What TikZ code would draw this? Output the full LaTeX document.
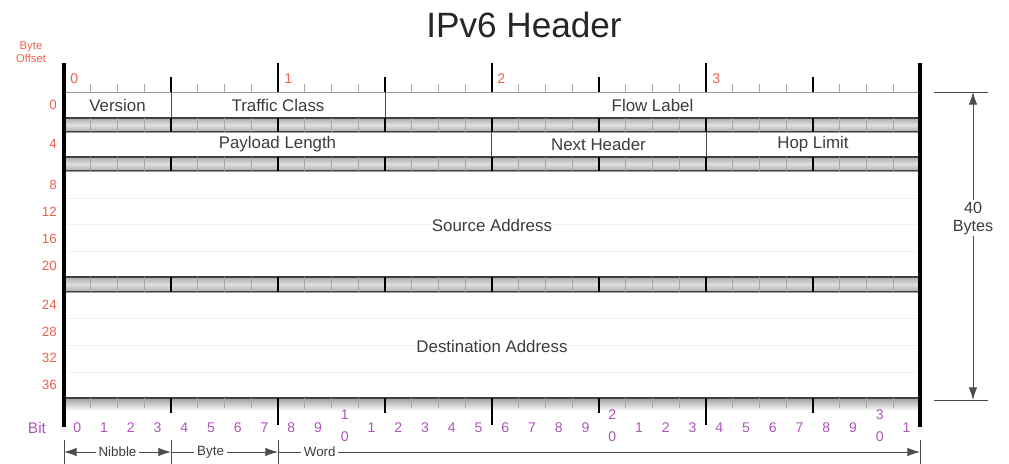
\documentclass[tikz,border=0pt]{standalone}
\usepackage{fontspec}
\setmainfont{Liberation Sans}
\usetikzlibrary{arrows.meta, positioning}
\definecolor{offsetred}{RGB}{236,96,78}
\definecolor{bitpurple}{RGB}{175,85,185}
\definecolor{labelgray}{RGB}{60,60,60}
\tikzset{
  title/.style = {font=\fontsize{25}{28}\selectfont, text=black!85},
  fieldtxt/.style = {font=\fontsize{12}{14}\selectfont, text=labelgray, inner sep=1pt},
  bigtxt/.style = {fieldtxt, fill=white},
  offset/.style = {font=\fontsize{9.5}{11}\selectfont, text=offsetred, anchor=east, inner sep=0pt},
  bytenum/.style = {font=\fontsize{10}{12}\selectfont, text=offsetred, anchor=west, inner sep=0pt},
  bitnum/.style = {font=\fontsize{10}{12}\selectfont, text=bitpurple, inner sep=0pt},
  spantxt/.style = {font=\fontsize{9.5}{11}\selectfont, text=labelgray, fill=white, inner sep=2pt},
  border/.style = {line width=2.5pt, black},
  bytetick/.style = {line width=2pt, black},
  nibtick/.style = {line width=1.4pt, black},
  bittick/.style = {line width=0.5pt, gray!70},
  greybar/.style = {top color=gray!65, bottom color=gray!65, middle color=gray!25, draw=black!75, line width=0.8pt},
  row/.style = {draw=gray!80, line width=0.6pt, fill=white},
  faint/.style = {gray!12, line width=0.6pt},
  sep/.style = {black!70, line width=0.7pt},
  span/.style = {black!70, line width=0.6pt},
  tip/.style = {-{Latex[length=9pt,width=6pt]}},
  tips/.style = {{Latex[length=9pt,width=6pt]}-{Latex[length=9pt,width=6pt]}},
}

\begin{document}
\begin{tikzpicture}[x=0.025cm, y=-0.025cm]
    \useasboundingbox (0,0) rectangle (1009,464);
    % --- Title ---
    \node[title] (title) at (524,25) {IPv6 Header};

    % --- Rows ---
    \draw[row] (64,92) rectangle (920,118);
    \draw[greybar] (64,118) rectangle (920,132);
    \draw[row] (64,132) rectangle (920,157);
    \draw[greybar] (64,157) rectangle (920,171);
    \draw[row] (64,171) rectangle (920,277);
    \draw[greybar] (64,277) rectangle (920,292);
    \draw[row] (64,292) rectangle (920,398);
    \shade[top color=gray!75, bottom color=white] (64,398) rectangle (920,411);
    \draw[black!75, line width=0.8pt] (64,398) -- (920,398);
    \foreach \y in {198,224,251,318,345,372}
      \draw[faint] (64,\y) -- (920,\y);

    % field separators
    \draw[sep] (171,92) -- (171,118);
    \draw[sep] (385,92) -- (385,118);
    \draw[sep] (491,132) -- (491,157);
    \draw[sep] (706,132) -- (706,157);

    % --- Ticks ---
    \foreach \b in {1,...,31}{
      \pgfmathsetmacro\tx{64+26.75*\b}
      \pgfmathtruncatemacro\isbyte{mod(\b,8)}
      \pgfmathtruncatemacro\isnib{mod(\b,4)}
      \ifnum\isbyte=0
        \draw[bytetick] (\tx,63) -- (\tx,92);
        \draw[bytetick] (\tx,398) -- (\tx,425);
        \foreach \ya/\yb in {118/132,157/171,277/292}
          \draw[nibtick] (\tx,\ya) -- (\tx,\yb);
      \else\ifnum\isnib=0
        \draw[nibtick] (\tx,77) -- (\tx,92);
        \draw[nibtick] (\tx,398) -- (\tx,413);
        \foreach \ya/\yb in {118/132,157/171,277/292}
          \draw[nibtick] (\tx,\ya) -- (\tx,\yb);
      \else
        \draw[bittick] (\tx,84) -- (\tx,92);
        \draw[bittick] (\tx,398) -- (\tx,408);
        \foreach \ya/\yb in {118/132,157/171,277/292}
          \draw[bittick] (\tx,\ya) -- (\tx,\yb);
      \fi\fi
    }
    \draw[border] (64,63) -- (64,427);
    \draw[border] (920,63) -- (920,427);

    % --- Field labels ---
    \node[fieldtxt] (version) at (117.5,105) {Version};
    \node[fieldtxt] (traffic) at (278,105) {Traffic Class};
    \node[fieldtxt] (flow)    at (652.5,105) {Flow Label};
    \node[fieldtxt] (payload) at (277.5,144.5) {Payload Length};
    \node[fieldtxt] (next)    at (598.5,144.5) {Next Header};
    \node[fieldtxt] (hop)     at (813,144.5) {Hop Limit};
    \node[bigtxt]   (src)     at (492,225) {Source Address};
    \node[bigtxt]   (dst)     at (492,346) {Destination Address};

    % --- Offsets and bit numbers ---
    \node[font=\fontsize{8}{9}\selectfont, text=offsetred, align=center, inner sep=0pt]
      (byteoff) at (31,52) {Byte\\Offset};
    \foreach \o/\y in {0/105,4/144,8/185,12/212,16/239,20/266,24/305,28/332,32/358,36/385}
      \node[offset] (off\o) at (57,\y) {\o};
    \foreach \k/\x in {0/64,1/278,2/491,3/706}
      \node[bytenum] (byte\k) at (\x+6,79) {\k};
    \node[bitnum, font=\fontsize{11}{12}\selectfont] (bitlbl) at (37,428) {Bit};
    \foreach \i in {0,...,31}{
      \pgfmathsetmacro\bx{64+26.75*(\i+0.5)}
      \pgfmathtruncatemacro\bitdig{mod(\i,10)}
      \pgfmathtruncatemacro\bittens{\i/10}
      \ifnum\bitdig=0 \ifnum\i>0
        \node[bitnum] (bit\i) at (\bx,415) {\bittens};
        \node[bitnum] (bitz\i) at (\bx,437) {0};
      \else
        \node[bitnum] (bit\i) at (\bx,428) {0};
      \fi\else
        \node[bitnum] (bit\i) at (\bx,428) {\bitdig};
      \fi
    }

    % --- Spans ---
    \coordinate (sp0) at (64,452);
    \coordinate (sp1) at (171,452);
    \coordinate (sp2) at (278,452);
    \coordinate (sp3) at (920,452);
    \foreach \x in {64,171,278,920}
      \draw[span] (\x,440) -- (\x,464);
    \draw[span, tips] (sp0) -- node[spantxt] (nibble) {Nibble} (sp1);
    \draw[span, tip] (sp1) -- node[spantxt, pos=0.37] (byte) {Byte} (sp2);
    \draw[span, tip] (sp2) -- node[spantxt, pos=0.065] (word) {Word} (sp3);

    % --- 40 Bytes ---
    \coordinate (dimtop) at (973,92);
    \coordinate (dimbot) at (973,400);
    \draw[span] (934,92) -- (988,92);
    \draw[span] (934,400) -- (988,400);
    \draw[span, tips]
      (dimtop) -- node[bigtxt, align=center, pos=0.41, font=\fontsize{11.5}{13}\selectfont] (forty) {40\\Bytes} (dimbot);
\end{tikzpicture}
\end{document}
